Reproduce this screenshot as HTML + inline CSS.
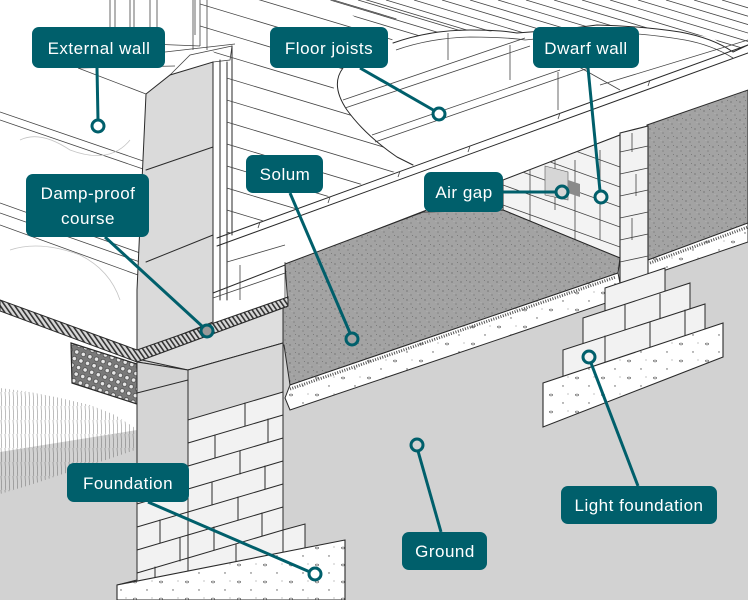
<!DOCTYPE html>
<html><head><meta charset="utf-8"><style>
html,body{margin:0;padding:0;background:#fff;}
svg{display:block;}
.lbl{font-family:"Liberation Sans",sans-serif;font-size:17px;fill:#fff;letter-spacing:0.5px;text-anchor:middle;}
.ln{stroke:#2a2a2a;stroke-width:1;fill:none;stroke-linecap:round;stroke-linejoin:round;}
.lt{stroke:#444;stroke-width:0.8;fill:none;}
.ld{stroke:#005f6b;stroke-width:3;fill:none;}
</style></head><body>
<svg width="748" height="600" viewBox="0 0 748 600" xmlns="http://www.w3.org/2000/svg">
<defs>
 <pattern id="speck" width="9" height="9" patternUnits="userSpaceOnUse">
   <rect width="9" height="9" fill="#a3a3a3"/>
   <circle cx="2" cy="3" r="0.6" fill="#5a5a5a"/>
   <circle cx="6" cy="7" r="0.5" fill="#555"/>
   <circle cx="7.5" cy="1.5" r="0.45" fill="#6a6a6a"/>
   <circle cx="4" cy="5.5" r="0.35" fill="#c8c8c8"/>
 </pattern>
 <pattern id="hatch" width="4" height="4" patternUnits="userSpaceOnUse" patternTransform="rotate(-35)">
   <rect width="4" height="4" fill="#d8d8d8"/>
   <rect width="1.6" height="4" fill="#333"/>
 </pattern>
 <pattern id="grille" width="7" height="7" patternUnits="userSpaceOnUse" patternTransform="rotate(20)">
   <rect width="7" height="7" fill="#7a7a7a"/>
   <circle cx="3.5" cy="3.5" r="2.2" fill="#e8e8e8" stroke="#333" stroke-width="0.6"/>
 </pattern>
 <pattern id="grass" width="4" height="14" patternUnits="userSpaceOnUse">
   <line x1="1" y1="0" x2="1.8" y2="14" stroke="#3a3a3a" stroke-width="0.6"/>
 </pattern>
 <pattern id="conc" width="26" height="17" patternUnits="userSpaceOnUse">
   <rect width="26" height="17" fill="#fff"/>
   <ellipse cx="5" cy="4" rx="1.6" ry="0.9" fill="none" stroke="#555" stroke-width="0.6"/>
   <circle cx="17" cy="12" r="0.7" fill="#555"/>
   <circle cx="22" cy="3" r="0.5" fill="#666"/>
 </pattern>
 <clipPath id="cA"><polygon points="200,0 400,0 392,42 343,68 333,90 347,110 367,135 397,157 413,165 227,234 227,62 200,42"/></clipPath>
 <clipPath id="cC"><polygon points="330,0 748,0 748,45 733,52 713,38 680,32 637,27 597,25 560,30 517,33 470,30 430,33 393,43"/></clipPath>
 <clipPath id="cW"><polygon points="503,180 620,135 620,258 503,210"/></clipPath>
</defs>

<rect width="748" height="600" fill="#fff"/>

<!-- ground -->
<polygon points="0,452 137,430 137,360 290,340 620,255 748,222 748,600 0,600" fill="#d2d2d2"/>

<!-- grass -->
<polygon points="0,388 30,392 60,398 90,405 115,415 135,428 135,450 100,462 60,475 30,485 0,494" fill="url(#grass)" opacity="0.55"/>

<!-- left wall light lines -->
<g class="lt">
 <path d="M0,112 L146,162 M0,120 L146,170 M0,203 L140,253 M0,213 L140,262 M0,225 L138,275"/>
 <path d="M78,68 L146,94 M78,68 L175,66 M110,0 V45 M115,0 V46 M130,0 V52 M134,0 V52 M150,0 V44 M157,0 V40 M195,0 V35 M200,0 V46 M193,0 V50 M207,0 V50 M150,44 L200,46 M165,52 L235,44"/>
 <path d="M170,75 L190,55 L232,46 L230,60 L213,62" />
 <path d="M20,140 Q40,130 70,150 Q110,165 130,140" stroke="#c4c4c4"/>
 <path d="M10,250 Q40,240 80,255 Q110,270 120,300" stroke="#c4c4c4"/>
</g>

<!-- wall section gray -->
<polygon points="146,94 170,75 213,62 213,322 137,352 137,290" fill="#dadada" stroke="#2a2a2a" stroke-width="1"/>
<path class="ln" d="M146,170 L213,147 M146,262 L213,235"/>
<!-- post -->
<path class="ln" d="M213,62 V322 M220,60 V300 M227,62 V300 M232,46 V235"/>
<path class="lt" d="M213,298 L288,272 M227,262 L285,245 M240,300 L240,265 M285,262 V300"/>

<!-- floor boards region A -->
<g clip-path="url(#cA)" class="lt">
 <path d="M200,-40 L420,26 M200,-18 L420,48 M200,4 L420,70 M200,26 L420,92 M200,48 L420,114 M200,70 L420,136 M200,92 L420,158 M200,114 L420,180 M200,136 L420,202 M200,158 L420,224 M200,180 L420,246 M200,202 L420,268 M200,224 L420,290"/>
</g>
<!-- floor boards region C -->
<g clip-path="url(#cC)" class="lt">
 <path d="M300,0 L500,60 M330,0 L530,60 M358,0 L558,60 M386,0 L586,60 M414,0 L614,60 M442,0 L642,60 M470,0 L670,60 M498,0 L698,60 M526,0 L726,60 M554,0 L754,60 M582,0 L782,60 M610,0 L810,60 M638,0 L838,60 M666,0 L866,60 M694,0 L894,60 M722,0 L922,60 M300,-20 L500,40"/>
</g>
<!-- cut curve -->
<path class="ln" d="M393,43 Q430,30 470,30 Q500,30 517,33 Q560,30 597,25 Q640,26 680,32 Q713,38 733,52 L748,45"/>
<path class="lt" d="M396,50 Q430,38 470,37 Q505,37 525,40 Q565,36 600,32 Q645,33 685,40 Q712,45 733,58"/>
<path class="ln" d="M343,68 Q330,85 347,110 Q365,135 397,157 L413,165"/>
<!-- joists -->
<path class="lt" d="M343,100 L525,38 M345,108 L530,46 M372,135 L560,70 M375,142 L600,64 M448,33 V60 M510,45 V80 M558,72 V110 M540,45 L620,90 M600,85 L748,40"/>

<!-- beam -->
<path class="ln" d="M217,238 L748,45 M217,246 L748,53 M213,293 L620,135 M213,238 V293"/>
<path class="lt" d="M260,222 l-2,6 M330,197 l-2,6 M400,171 l-2,6 M470,146 l-2,6 M560,113 l-2,6 M650,80 l-2,6"/>

<!-- brick wall behind air gap -->
<polygon points="503,180 620,135 620,258 503,210" fill="#f3f3f3" stroke="#2a2a2a" stroke-width="1"/>
<g clip-path="url(#cW)" class="lt">
 <path d="M503,185 L620,227 M503,165 L620,207 M503,145 L620,187 M503,125 L620,167 M503,205 L620,247 M530,150 V230 M575,160 V250 M555,130 V210 M600,150 V240"/>
</g>
<polygon points="545,166 568,172 568,200 545,195" fill="#d6d6d6" stroke="#555" stroke-width="0.6"/>
<polygon points="568,180 580,184 580,197 568,193" fill="#8a8a8a"/>

<!-- solum -->
<polygon points="285,264 423,212 503,210 620,258 618,273 290,385 284,345 233,328 288,306" fill="url(#speck)" stroke="#2a2a2a" stroke-width="1"/>
<!-- oversite strip -->
<polygon points="290,385 618,273 620,283 606,303 290,410 285,398" fill="url(#conc)" stroke="#2a2a2a" stroke-width="1"/>
<path d="M290,389 L616,277" stroke="#555" stroke-width="3" stroke-dasharray="1 1.5" fill="none"/>

<!-- right dark -->
<polygon points="647,125 748,90 748,223 648,260" fill="url(#speck)" stroke="#2a2a2a" stroke-width="1"/>
<polygon points="648,260 748,223 748,242 648,276" fill="url(#conc)" stroke="#2a2a2a" stroke-width="1"/>
<path d="M650,263 L748,227" stroke="#555" stroke-width="3" stroke-dasharray="1 1.5" fill="none"/>

<!-- dwarf pier -->
<polygon points="620,133 648,126 648,278 620,284" fill="#f2f2f2" stroke="#2a2a2a" stroke-width="1.1"/>
<path class="lt" d="M620,152 L648,146 M620,174 L648,168 M620,196 L648,190 M620,218 L648,212 M620,240 L648,234 M620,262 L648,256 M632,133 V152 M636,174 V196 M632,218 V240"/>

<!-- light foundation -->
<polygon points="605,288 665,268 665,296 605,316" fill="#f2f2f2" stroke="#2a2a2a" stroke-width="1"/>
<polygon points="583,318 690,283 690,313 583,348" fill="#f2f2f2" stroke="#2a2a2a" stroke-width="1"/>
<path class="ln" d="M625,305 V335 M660,294 V324"/>
<polygon points="563,350 705,304 705,332 563,378" fill="#f2f2f2" stroke="#2a2a2a" stroke-width="1"/>
<path class="ln" d="M605,336 V364 M650,322 V350 M685,310 V338"/>
<polygon points="543,383 723,323 723,357 543,427" fill="url(#conc)" stroke="#2a2a2a" stroke-width="1.1"/>

<!-- DPC -->
<polygon points="0,300 137,350 288,297 288,306 137,362 0,311" fill="url(#hatch)" stroke="#2a2a2a" stroke-width="1"/>
<!-- grille -->
<polygon points="71,343 140,365 140,405 72,383" fill="url(#grille)" stroke="#2a2a2a" stroke-width="1.2"/>

<!-- foundation pier -->
<polygon points="142,360 283,308 283,343 188,370" fill="#dedede" stroke="#2a2a2a" stroke-width="1"/>
<polygon points="137,362 188,370 188,600 117,600 117,585 137,580" fill="#f2f2f2" stroke="#2a2a2a" stroke-width="1"/>
<polygon points="137,362 188,370 188,489 137,504" fill="#d5d5d5" stroke="#2a2a2a" stroke-width="1"/>
<path class="ln" d="M137,393 L188,380"/>
<polygon points="188,370 283,343 283,560 188,580" fill="#f2f2f2" stroke="#2a2a2a" stroke-width="1"/>
<polygon points="188,370 283,343 283,392 188,420" fill="#d8d8d8" stroke="#2a2a2a" stroke-width="1"/>
<g class="ln">
 <path d="M137,527 L283,484 M137,550 L283,507 M137,573 L283,530 M188,443 L283,415 M188,466 L283,438 M188,489 L283,461 M188,512 L283,484 M188,535 L283,507 M188,558 L283,530"/>
 <path d="M245,403 V426 M215,435 V458 M268,419 V442 M240,451 V474 M212,482 V505 M265,466 V489 M238,497 V520 M160,520 V543 M214,527 V550 M262,513 V536 M180,538 V561 M236,544 V567 M155,567 V585"/>
</g>
<polygon points="283,530 305,524 305,548 283,553" fill="#f2f2f2" stroke="#2a2a2a" stroke-width="1"/>
<!-- footing -->
<polygon points="117,585 345,540 345,600 117,600" fill="url(#conc)" stroke="#2a2a2a" stroke-width="1.1"/>

<!-- leaders -->
<g class="ld">
 <line x1="97" y1="68" x2="98" y2="120"/>
 <line x1="360" y1="68" x2="435" y2="111"/>
 <line x1="588" y1="68" x2="600" y2="191"/>
 <line x1="290" y1="193" x2="350" y2="333"/>
 <line x1="105" y1="237" x2="203" y2="327"/>
 <line x1="503" y1="192" x2="556" y2="192"/>
 <line x1="148" y1="502" x2="310" y2="572"/>
 <line x1="441" y1="532" x2="418" y2="451"/>
 <line x1="638" y1="486" x2="591" y2="363"/>
</g>
<g stroke="#005f6b" stroke-width="3">
 <circle cx="98" cy="126" r="6" fill="#fff"/>
 <circle cx="439" cy="114" r="6" fill="#fff"/>
 <circle cx="601" cy="197" r="6" fill="#f2f2f2"/>
 <circle cx="352" cy="339" r="6" fill="#a3a3a3"/>
 <circle cx="207" cy="331" r="6" fill="#999"/>
 <circle cx="562" cy="192" r="6" fill="#d6d6d6"/>
 <circle cx="315" cy="574" r="6" fill="#fff"/>
 <circle cx="417" cy="445" r="6" fill="#d2d2d2"/>
 <circle cx="589" cy="357" r="6" fill="#f2f2f2"/>
</g>

<!-- labels -->
<g fill="#005f6b">
 <rect x="32" y="27" width="133" height="41" rx="7"/>
 <rect x="270" y="27" width="118" height="41" rx="7"/>
 <rect x="533" y="27" width="106" height="41" rx="7"/>
 <rect x="246" y="155" width="77" height="38" rx="7"/>
 <rect x="26" y="174" width="123" height="63" rx="7"/>
 <rect x="424" y="172" width="79" height="40" rx="7"/>
 <rect x="67" y="463" width="122" height="39" rx="7"/>
 <rect x="402" y="532" width="85" height="38" rx="7"/>
 <rect x="561" y="486" width="156" height="38" rx="7"/>
</g>
<text class="lbl" x="99" y="54">External wall</text>
<text class="lbl" x="329" y="54">Floor joists</text>
<text class="lbl" x="586" y="54">Dwarf wall</text>
<text class="lbl" x="285" y="180">Solum</text>
<text class="lbl" x="88" y="199">Damp-proof</text>
<text class="lbl" x="88" y="224">course</text>
<text class="lbl" x="464" y="198">Air gap</text>
<text class="lbl" x="128" y="489">Foundation</text>
<text class="lbl" x="445" y="557">Ground</text>
<text class="lbl" x="639" y="511">Light foundation</text>
</svg>
</body></html>
